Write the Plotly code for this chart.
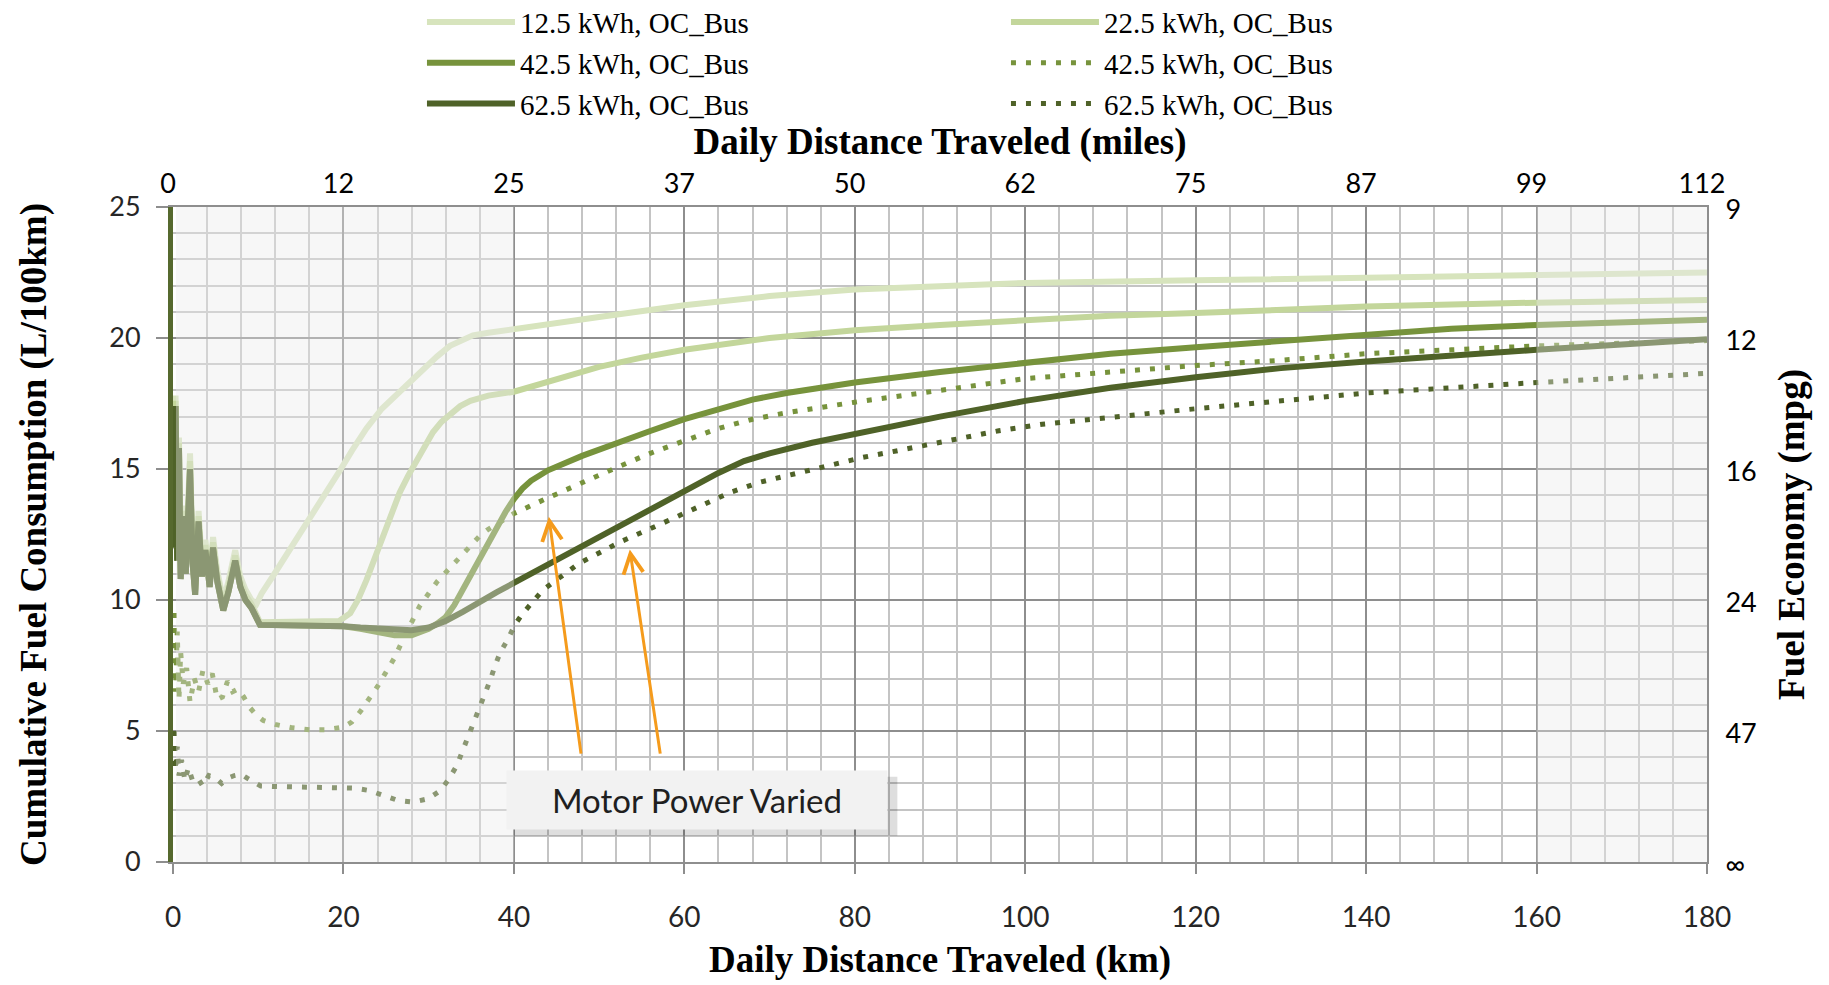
import plotly.graph_objects as go

# ---------------- data ----------------
km_125 = [0.1, 0.3, 0.5, 0.7, 0.9, 1.2, 1.5, 1.8, 2.0, 2.3, 2.6, 3.0, 3.4, 3.8, 4.3, 4.7, 5.2, 5.9, 6.5, 7.3,
          7.9, 8.5, 9.2, 9.8, 10.4, 12, 14, 16, 18, 19.6, 21, 22.7, 24.5, 26.6, 28, 29.8, 31, 32.5, 34, 35.2,
          37, 40, 45, 50, 60, 70, 80, 90, 100, 120, 140, 160, 180]
fc_125 = [12.5, 17.8, 12.0, 16.2, 11.2, 13.6, 11.4, 14.8, 15.6, 11.8, 10.6, 13.4, 11.3, 12.3, 10.9, 12.4, 11.1, 10.0, 10.7, 11.9,
          10.9, 10.4, 10.0, 9.85, 10.25, 11.05, 12.05, 13.1, 14.1, 14.95, 15.7, 16.55, 17.3, 17.95, 18.45, 18.95, 19.3, 19.7, 19.95, 20.1,
          20.2, 20.35, 20.55, 20.8, 21.25, 21.6, 21.85, 22.0, 22.1, 22.2, 22.3, 22.4, 22.5]

km_225 = [0.1, 0.3, 0.5, 0.7, 0.9, 1.2, 1.5, 1.8, 2.0, 2.3, 2.6, 3.0, 3.4, 3.8, 4.3, 4.7, 5.2, 5.9, 6.5, 7.3,
          7.9, 8.5, 9.2, 10.2, 12, 14, 16, 18, 19.5, 20.8, 21.7, 22.7, 23.7, 24.7, 25.6, 26.6, 27.6, 28.6, 29.5, 30.5,
          31.5, 32.5, 33.7, 34.9, 37, 40, 45, 50, 55, 60, 70, 80, 90, 100, 110, 120, 140, 160, 180]
fc_225 = [12.3, 17.6, 11.8, 16.0, 11.0, 13.4, 11.2, 14.7, 15.3, 11.6, 10.4, 13.2, 11.1, 12.1, 10.7, 12.2, 10.9, 9.8, 10.5, 11.7,
          10.7, 10.2, 9.85, 9.15, 9.15, 9.15, 9.15, 9.15, 9.2, 9.5, 10.0, 10.76, 11.6, 12.55, 13.35, 14.1, 14.75, 15.3, 15.9, 16.4,
          16.8, 17.1, 17.4, 17.6, 17.8, 17.95, 18.4, 18.9, 19.25, 19.55, 20.0, 20.3, 20.5, 20.7, 20.85, 20.95, 21.2, 21.35, 21.45]

km_425 = [0.1, 0.3, 0.5, 0.7, 0.9, 1.2, 1.5, 1.8, 2.0, 2.3, 2.6, 3.0, 3.4, 3.8, 4.3, 4.7, 5.2, 5.9, 6.5, 7.3,
          7.9, 8.5, 9.2, 10.2, 12, 14, 16, 18, 20, 22, 24, 26, 28, 29, 30, 31, 32, 33, 34, 35,
          36, 37, 38, 39, 40, 41, 42, 44, 48, 52, 56, 60, 64, 68, 72, 80, 90, 100, 110, 120,
          130, 140, 150, 160, 170, 180]
fc_425 = [12.0, 17.4, 11.5, 15.8, 10.8, 13.2, 11.0, 14.4, 15.0, 11.4, 10.2, 13.0, 10.9, 11.9, 10.5, 12.0, 10.7, 9.6, 10.3, 11.5,
          10.5, 10.0, 9.7, 9.05, 9.05, 9.05, 9.05, 9.0, 9.0, 8.9, 8.75, 8.65, 8.65, 8.75, 8.9, 9.1, 9.35, 9.8, 10.4, 11.0,
          11.6, 12.2, 12.8, 13.35, 13.85, 14.25, 14.55, 14.95, 15.5, 16.0, 16.45, 16.9, 17.3, 17.65, 17.9, 18.3, 18.7, 19.05, 19.4, 19.65,
          19.9, 20.15, 20.35, 20.5, 20.6, 20.7]

km_425_dot = [0.15, 0.3, 0.5, 0.7, 0.9, 1.2, 1.6, 2.0, 2.5, 3.0, 3.5, 4.1, 4.6, 5.2, 5.8, 6.4, 7.0, 7.6, 8.3, 9.0,
              9.8, 10.6, 12, 14, 16, 18, 20, 21, 22, 23, 24, 25, 26, 27, 28, 29, 30, 31, 32, 33,
              34, 35, 36, 37, 38, 39, 40, 44, 48, 52, 56, 60, 64, 68, 72, 80, 90, 100, 110, 120,
              130, 140, 150, 160, 170, 180]
fc_425_dot = [9.5, 6.5, 8.8, 6.2, 8.0, 6.8, 7.4, 6.1, 7.0, 6.5, 7.3, 6.8, 7.2, 6.2, 6.3, 6.9, 6.5, 6.6, 6.3, 5.9,
              5.6, 5.4, 5.25, 5.12, 5.05, 5.05, 5.15, 5.35, 5.75, 6.2, 6.7, 7.25, 7.8, 8.5, 9.2, 9.8, 10.25, 10.7, 11.05, 11.4,
              11.8, 12.1, 12.45, 12.7, 12.9, 13.1, 13.3, 13.9, 14.5, 15.05, 15.6, 16.08, 16.55, 16.9, 17.15, 17.55, 18.0, 18.45, 18.7, 18.95,
              19.15, 19.4, 19.55, 19.7, 19.8, 19.9]

km_625 = [0.1, 0.3, 0.5, 0.7, 0.9, 1.2, 1.5, 1.8, 2.0, 2.3, 2.6, 3.0, 3.4, 3.8, 4.3, 4.7, 5.2, 5.9, 6.5, 7.3,
          7.9, 8.5, 9.2, 10.2, 12, 14, 16, 18, 20, 22, 24, 26, 28, 30, 32, 34, 36, 38, 40, 44,
          48, 52, 56, 60, 64, 67, 70, 75, 80, 90, 100, 110, 120, 130, 140, 150, 160, 170, 180]
fc_625 = [12.0, 17.4, 11.5, 15.8, 10.8, 13.2, 11.0, 14.4, 15.0, 11.4, 10.2, 13.0, 10.9, 11.9, 10.5, 12.0, 10.7, 9.6, 10.3, 11.5,
          10.5, 10.0, 9.7, 9.05, 9.05, 9.05, 9.05, 9.05, 9.0, 8.95, 8.9, 8.85, 8.85, 8.95, 9.2, 9.55, 9.95, 10.3, 10.65, 11.35,
          12.05, 12.75, 13.5, 14.2, 14.85, 15.3, 15.6, 16.0, 16.35, 17.0, 17.6, 18.1, 18.5, 18.85, 19.1, 19.35, 19.55, 19.75, 19.95]

km_625_dot = [0.15, 0.3, 0.5, 0.7, 1.0, 1.4, 1.8, 2.3, 2.9, 3.5, 4.2, 5.0, 5.7, 6.4, 7.2, 8.0, 8.7, 9.4, 10.3, 12,
              14, 16, 18, 20, 21.3, 23, 24.7, 26.4, 28.2, 29.9, 31.4, 32.4, 33.3, 34.0, 34.7, 35.3, 36.0, 36.6, 37.2, 37.8,
              38.4, 39.3, 40.1, 41.0, 42.1, 43.4, 47.6, 52.5, 57.3, 60.4, 65.4, 68.8, 74, 77.5, 80.9, 86.3, 91.7, 96.9, 102, 107.4,
              120, 140, 160, 180]
fc_625_dot = [5.0, 3.5, 4.4, 3.3, 3.9, 3.1, 3.6, 3.1, 3.2, 2.9, 3.3, 3.2, 3.0, 3.2, 3.3, 3.35, 3.2, 3.05, 2.9, 2.88,
              2.87, 2.87, 2.86, 2.86, 2.82, 2.73, 2.54, 2.35, 2.29, 2.41, 2.73, 3.18, 3.68, 4.26, 4.76, 5.34, 5.85, 6.35, 6.92, 7.5,
              8.0, 8.5, 9.05, 9.47, 9.9, 10.38, 11.39, 12.22, 12.91, 13.38, 14.11, 14.49, 14.9, 15.15, 15.44, 15.78, 16.11, 16.46, 16.71, 16.9,
              17.3, 17.9, 18.3, 18.65]

km_tick_vals = [0, 20, 40, 60, 80, 100, 120, 140, 160, 180]
miles_labels = ["0", "12", "25", "37", "50", "62", "75", "87", "99", "112"]
fc_tick_vals = [0, 5, 10, 15, 20, 25]
mpg_labels = ["\u221e", "47", "24", "16", "12", "9"]

series_names = ["12.5 kWh, OC_Bus", "22.5 kWh, OC_Bus", "42.5 kWh, OC_Bus",
                "42.5 kWh, OC_Bus", "62.5 kWh, OC_Bus", "62.5 kWh, OC_Bus"]

# ---------------- styling ----------------
C125, C225, C425, C625 = "#D7E4BD", "#C3D69B", "#77933C", "#4F6228"
MAJ, MIN = "#8e8e8e", "#c4c4c4"
SERIF = "Liberation Serif"
SANS = "Lato"
TITLE_FONT = dict(family=SERIF, size=37, color="black", weight="bold")
DOT = "5px,10px"

fig = go.Figure()
specs = [
    (km_125, fc_125, series_names[0], C125, "solid", "legend"),
    (km_225, fc_225, series_names[1], C225, "solid", "legend2"),
    (km_425, fc_425, series_names[2], C425, "solid", "legend"),
    (km_425_dot, fc_425_dot, series_names[3], C425, DOT, "legend2"),
    (km_625, fc_625, series_names[4], C625, "solid", "legend"),
    (km_625_dot, fc_625_dot, series_names[5], C625, DOT, "legend2"),
]
for x, y, name, col, dash, leg in specs:
    fig.add_trace(go.Scatter(x=x, y=y, name=name, mode="lines",
                             line=dict(color=col, width=6 if dash == "solid" else 5, dash=dash),
                             legend=leg))

# invisible trace to bind the secondary (miles / mpg) axes
fig.add_trace(go.Scatter(x=[None], y=[None], xaxis="x2", yaxis="y2",
                         showlegend=False, hoverinfo="skip"))

LEG_FONT = dict(family=SERIF, size=29, color="black")

# the page body adds an 8px offset, so the figure is 8px smaller than the window
fig.update_layout(
    width=1821, height=977,
    margin=dict(l=165, r=122, t=199, b=123, autoexpand=False),
    paper_bgcolor="white", plot_bgcolor="white",
    xaxis=dict(range=[0, 180], tick0=0, dtick=20, zeroline=False,
               showgrid=True, gridcolor=MAJ, gridwidth=2,
               minor=dict(dtick=4, showgrid=True, gridcolor=MIN, gridwidth=2),
               showline=True, linecolor=MAJ, linewidth=2,
               ticks="outside", ticklen=10, tickwidth=2, tickcolor=MAJ,
               tickfont=dict(family=SANS, size=28, color="#262626"),
               ticklabelstandoff=19,
               title=dict(text="Daily Distance Traveled (km)", font=TITLE_FONT, standoff=15)),
    yaxis=dict(range=[0, 25], tick0=0, dtick=5, zeroline=False,
               showgrid=True, gridcolor=MAJ, gridwidth=2,
               minor=dict(dtick=1, showgrid=True, gridcolor=MIN, gridwidth=2),
               showline=True, linecolor="#56692E", linewidth=5,
               ticks="outside", ticklen=12, tickwidth=2, tickcolor=MAJ,
               tickfont=dict(family=SANS, size=27, color="#262626"),
               ticklabelstandoff=10,
               title=dict(text="Cumulative Fuel Consumption (L/100km)", font=TITLE_FONT, standoff=53)),
    xaxis2=dict(overlaying="x", side="top", range=[0, 180], tickmode="array",
                tickvals=km_tick_vals, ticktext=miles_labels, showgrid=False, zeroline=False,
                showline=True, linecolor=MAJ, linewidth=2, ticks="",
                tickfont=dict(family=SANS, size=27, color="black"),
                ticklabelstandoff=1, ticklabelshift=-5,
                title=dict(text="Daily Distance Traveled (miles)", font=TITLE_FONT, standoff=0)),
    yaxis2=dict(overlaying="y", side="right", range=[0, 25], tickmode="array",
                tickvals=fc_tick_vals, ticktext=mpg_labels, showgrid=False, zeroline=False,
                showline=True, linecolor=MAJ, linewidth=2, ticks="",
                tickfont=dict(family=SANS, size=27, color="black"),
                ticklabelstandoff=11, ticklabelshift=3,
                title=dict(text="Fuel Economy (mpg)", font=TITLE_FONT, standoff=22)),
    legend=dict(x=0.1623, y=1.321, xanchor="left", yanchor="top", orientation="v",
                bgcolor="rgba(0,0,0,0)", itemwidth=88, tracegroupgap=0, font=LEG_FONT),
    legend2=dict(x=0.543, y=1.321, xanchor="left", yanchor="top", orientation="v",
                 bgcolor="rgba(0,0,0,0)", itemwidth=88, tracegroupgap=0, font=LEG_FONT),
    shapes=[
        dict(type="rect", xref="x", yref="y", x0=0.35, x1=40, y0=0, y1=25, layer="above",
             fillcolor="rgba(235,235,235,0.39)", line=dict(width=0)),
        dict(type="rect", xref="x", yref="y", x0=160, x1=180, y0=0, y1=25, layer="above",
             fillcolor="rgba(235,235,235,0.39)", line=dict(width=0)),
        dict(type="rect", xref="x", yref="y", x0=40.0, x1=85.0, y0=1.0, y1=3.25, layer="above",
             fillcolor="rgba(0,0,0,0.13)", line=dict(width=0)),
    ],
    annotations=[
        dict(x=61.5, y=2.38, xref="x", yref="y", text="Motor Power Varied", showarrow=False,
             font=dict(family=SANS, size=33, color="#1f1f1f"), bgcolor="#f2f2f2",
             width=368, height=46, borderpad=6),
        dict(x=44.1, y=13.18, ax=47.9, ay=4.08, xref="x", yref="y", axref="x", ayref="y",
             text="", showarrow=True, arrowhead=5, arrowsize=1.3, arrowwidth=3,
             arrowcolor="#F59B1C", standoff=0),
        dict(x=53.6, y=11.93, ax=57.2, ay=4.08, xref="x", yref="y", axref="x", ayref="y",
             text="", showarrow=True, arrowhead=5, arrowsize=1.3, arrowwidth=3,
             arrowcolor="#F59B1C", standoff=0),
    ],
)

fig.write_html("out.html", config={"displayModeBar": False})
